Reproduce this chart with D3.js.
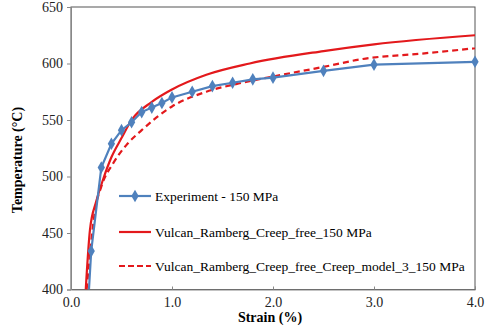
<!DOCTYPE html>
<html>
<head>
<meta charset="utf-8">
<script src="https://cdn.jsdelivr.net/npm/d3@7"></script>
<style>
  body { margin: 0; background: #fff; }
</style>
</head>
<body>
<svg id="chart" width="492" height="336"></svg>
<script>
// values: strain (%) vs temperature (C)
var expStrain = [0.178, 0.2, 0.3, 0.4, 0.5, 0.6, 0.7, 0.8, 0.9, 1.0, 1.2, 1.4, 1.6, 1.8, 2.0, 2.5, 3.0, 4.0];
var expTemp   = [400, 434, 508, 529, 541, 548, 557, 561, 565, 570, 575, 580, 583, 586, 587.5, 593.5, 599, 601.5];

var freeStrain = [0.146, 0.188, 0.25, 0.32, 0.4, 0.5, 0.6, 0.8, 1.0, 1.34, 1.77, 2.5, 3.0, 4.0];
var freeTemp   = [400, 453, 478, 498, 517, 534, 550, 566, 577, 590, 600, 611, 617, 625];

var model3Strain = [0.155, 0.2, 0.238, 0.3, 0.42, 0.55, 0.7, 1.0, 1.34, 1.67, 2.0, 2.5, 2.89, 3.5, 4.0];
var model3Temp   = [400, 442, 470, 491, 512, 528, 541, 562, 575, 582.5, 588.5, 597, 604, 609, 613.5];

var xTicks = [0, 1, 2, 3, 4];
var yTicks = [400, 450, 500, 550, 600, 650];

var seriesNames = [
	'Experiment - 150 MPa',
	'Vulcan_Ramberg_Creep_free_150 MPa',
	'Vulcan_Ramberg_Creep_free_Creep_model_3_150 MPa'
];

var blue = '#4f81bd', red = '#e3191c';
var serif = "'Liberation Serif'";

var svg = d3.select('#chart');
// plot box (avoid "top", which is window.top)
var pLeft = 71, pRight = 475, pTop = 7, pBottom = 289.5;

var x = d3.scaleLinear().domain([0, 4]).range([pLeft, pRight]);
var y = d3.scaleLinear().domain([400, 650]).range([pBottom, pTop]);

function pairs(xs, ys) {
	return xs.map(function(v, i) { return [v, ys[i]]; });
}

svg.append('defs').append('clipPath').attr('id', 'plot')
	.append('rect')
	.attr('x', pLeft).attr('y', pTop)
	.attr('width', pRight - pLeft).attr('height', pBottom - pTop);

// plot frame
svg.append('rect')
	.attr('x', pLeft).attr('y', pTop)
	.attr('width', pRight - pLeft).attr('height', pBottom - pTop)
	.attr('fill', 'none').attr('stroke', '#555').attr('stroke-width', 1);

// axes
var xAxis = svg.append('g')
	.attr('transform', 'translate(0,' + pBottom + ')')
	.call(d3.axisBottom(x).tickValues(xTicks).tickSize(-3).tickFormat(d3.format('.1f')));
var yAxis = svg.append('g')
	.attr('transform', 'translate(' + pLeft + ',0)')
	.call(d3.axisLeft(y).tickValues(yTicks).tickSize(4).tickFormat(d3.format('d')));

[xAxis, yAxis].forEach(function(a) {
	a.select('.domain').attr('stroke', '#888');
	a.selectAll('.tick line').attr('stroke', '#888');
	a.selectAll('.tick text')
		.style('font-family', serif).style('font-size', '14px')
		.attr('fill', '#222');
});
xAxis.selectAll('.tick text').attr('y', 8);
yAxis.selectAll('.tick text').attr('x', -8);

// axis titles
svg.append('text')
	.attr('x', 270).attr('y', 322)
	.attr('text-anchor', 'middle')
	.style('font-family', serif).style('font-size', '14px').style('font-weight', 'bold')
	.text('Strain (%)');

svg.append('text')
	.attr('transform', 'translate(22,160) rotate(-90)')
	.attr('text-anchor', 'middle')
	.style('font-family', serif).style('font-size', '14px').style('font-weight', 'bold')
	.text('Temperature (\u00b0C)');

var line = d3.line()
	.x(function(d) { return x(d[0]); })
	.y(function(d) { return y(d[1]); });

var smooth = d3.line()
	.curve(d3.curveMonotoneX)
	.x(function(d) { return x(d[0]); })
	.y(function(d) { return y(d[1]); });

var plot = svg.append('g').attr('clip-path', 'url(#plot)');

plot.append('path')
	.datum(pairs(model3Strain, model3Temp))
	.attr('d', smooth)
	.attr('fill', 'none').attr('stroke', red).attr('stroke-width', 2.2)
	.attr('stroke-dasharray', '6,4');

plot.append('path')
	.datum(pairs(freeStrain, freeTemp))
	.attr('d', smooth)
	.attr('fill', 'none').attr('stroke', red).attr('stroke-width', 2.2);

var expData = pairs(expStrain, expTemp);

plot.append('path')
	.datum(expData)
	.attr('d', line)
	.attr('fill', 'none').attr('stroke', blue).attr('stroke-width', 2.2);

var diamond = d3.symbol().type(d3.symbolDiamond).size(46);

svg.selectAll('.marker')
	.data(expData.filter(function(d) { return d[1] > 400; }))
	.enter().append('path')
	.attr('class', 'marker')
	.attr('transform', function(d) { return 'translate(' + x(d[0]) + ',' + y(d[1]) + ')'; })
	.attr('d', diamond)
	.attr('fill', blue);

// legend
var legendY = [196, 232, 266];
var legend = svg.selectAll('.legend')
	.data(seriesNames)
	.enter().append('g')
	.attr('class', 'legend')
	.attr('transform', function(d, i) { return 'translate(119,' + legendY[i] + ')'; });

legend.append('line')
	.attr('x1', 0).attr('x2', 32)
	.attr('stroke', function(d, i) { return i === 0 ? blue : red; })
	.attr('stroke-width', 2.2)
	.attr('stroke-dasharray', function(d, i) { return i === 2 ? '6,3' : null; });

legend.filter(function(d, i) { return i === 0; })
	.append('path')
	.attr('transform', 'translate(16,0)')
	.attr('d', diamond)
	.attr('fill', blue);

legend.append('text')
	.attr('x', 36).attr('dy', '0.35em')
	.style('font-family', serif).style('font-size', '13.5px')
	.text(function(d) { return d; });
</script>
</body>
</html>
